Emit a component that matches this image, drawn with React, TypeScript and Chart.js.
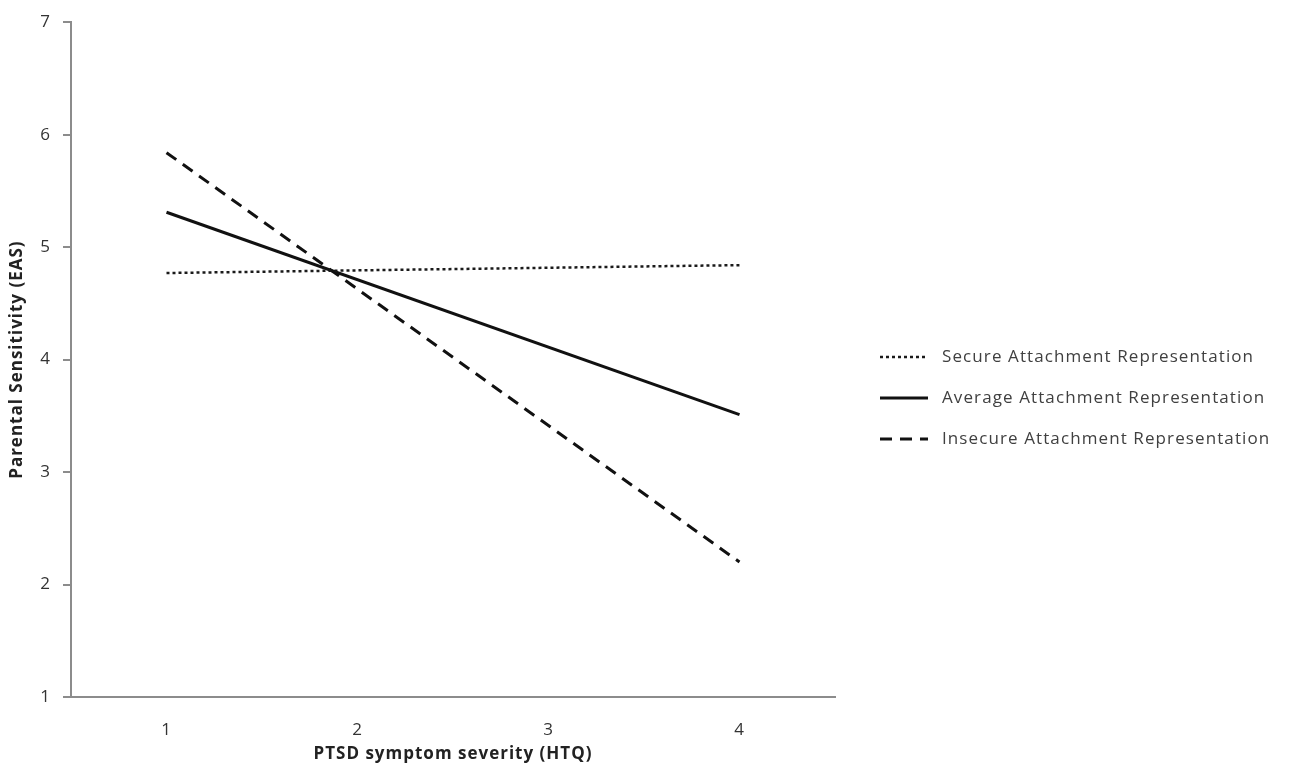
import React, { useEffect, useRef } from "react";
import { Chart, registerables } from "chart.js";

Chart.register(...registerables);

const categories = ["1", "2", "3", "4"];
const secureValues = [4.77, null, null, 4.84];
const averageValues = [5.31, null, null, 3.51];
const insecureValues = [5.84, null, null, 2.2];
const seriesNames = [
  "Secure Attachment Representation",
  "Average Attachment Representation",
  "Insecure Attachment Representation",
];
const xTitle = "PTSD symptom severity (HTQ)";
const yTitle = "Parental Sensitivity (EAS)";

const FONT = "'Open Sans', Lato, sans-serif";
const AXIS_GREY = "#8c8c8c";

const spacingPlugin = {
  id: "spacing",
  beforeDraw(chart: any) {
    (chart.ctx as any).letterSpacing = "1px";
  },
};

const legendPlugin = {
  id: "sideLegend",
  afterDraw(chart: any) {
    const { ctx, chartArea } = chart;
    const x0 = chartArea.right + 45;
    const x1 = chartArea.right + 93;
    const tx = chartArea.right + 107;
    const top = 357;
    const step = 41;
    chart.data.datasets.forEach((ds: any, i: number) => {
      const y = top + i * step;
      ctx.save();
      ctx.strokeStyle = ds.borderColor;
      ctx.lineWidth = ds.borderWidth;
      ctx.setLineDash(ds.borderDash || []);
      ctx.lineCap = "butt";
      ctx.beginPath();
      ctx.moveTo(x0, y);
      ctx.lineTo(x1, y);
      ctx.stroke();
      ctx.setLineDash([]);
      ctx.fillStyle = "#404040";
      ctx.font = `17px ${FONT}`;
      (ctx as any).letterSpacing = "1.1px";
      ctx.textBaseline = "middle";
      ctx.textAlign = "left";
      ctx.fillText(ds.label, tx, y);
      ctx.restore();
    });
  },
};

export default function App() {
  const ref = useRef<HTMLCanvasElement>(null);
  useEffect(() => {
    if (!ref.current) return;
    const chart = new Chart(ref.current, {
      type: "line",
      data: {
        labels: categories,
        datasets: [
          {
            label: seriesNames[0],
            data: secureValues,
            borderColor: "#1a1a1a",
            borderWidth: 2.5,
            borderDash: [3, 3],
            pointRadius: 0,
            spanGaps: true,
            fill: false,
          },
          {
            label: seriesNames[1],
            data: averageValues,
            borderColor: "#111111",
            borderWidth: 3,
            borderDash: [],
            pointRadius: 0,
            spanGaps: true,
            fill: false,
          },
          {
            label: seriesNames[2],
            data: insecureValues,
            borderColor: "#111111",
            borderWidth: 3,
            borderDash: [12, 8],
            pointRadius: 0,
            spanGaps: true,
            fill: false,
          },
        ],
      },
      options: {
        animation: false,
        responsive: false,
        layout: { padding: { top: 18, right: 460, bottom: 0, left: 0 } },
        plugins: { legend: { display: false }, tooltip: { enabled: false } },
        scales: {
          x: {
            type: "category",
            offset: true,
            grid: { display: false, drawTicks: true, tickLength: 8 },
            border: { display: true, color: AXIS_GREY, width: 2 },
            ticks: { color: "#333", font: { family: FONT, size: 17 }, padding: 15 },
            title: {
              display: true,
              text: xTitle,
              color: "#222",
              font: { family: FONT, size: 17, weight: "bold" },
              padding: { top: 0, bottom: 10 },
            },
            afterFit: (s: any) => {
              s.height = 77;
            },
          },
          y: {
            min: 1,
            max: 7,
            ticks: { stepSize: 1, color: "#333", font: { family: FONT, size: 17 }, padding: 12 },
            grid: { drawOnChartArea: false, drawTicks: true, tickLength: 8, color: AXIS_GREY, lineWidth: 2 },
            border: { display: true, color: AXIS_GREY, width: 2 },
            title: {
              display: true,
              text: yTitle,
              color: "#222",
              font: { family: FONT, size: 17, weight: "bold" },
              padding: { top: 7, bottom: 0 },
            },
            afterFit: (s: any) => {
              s.width = 71;
            },
          },
        },
      },
      plugins: [spacingPlugin, legendPlugin],
    });
    return () => chart.destroy();
  }, []);
  return (
    <div style={{ position: "fixed", left: 0, top: 0, width: 1295, height: 774, background: "#fff" }}>
      <canvas ref={ref} width={1295} height={774} />
    </div>
  );
}
